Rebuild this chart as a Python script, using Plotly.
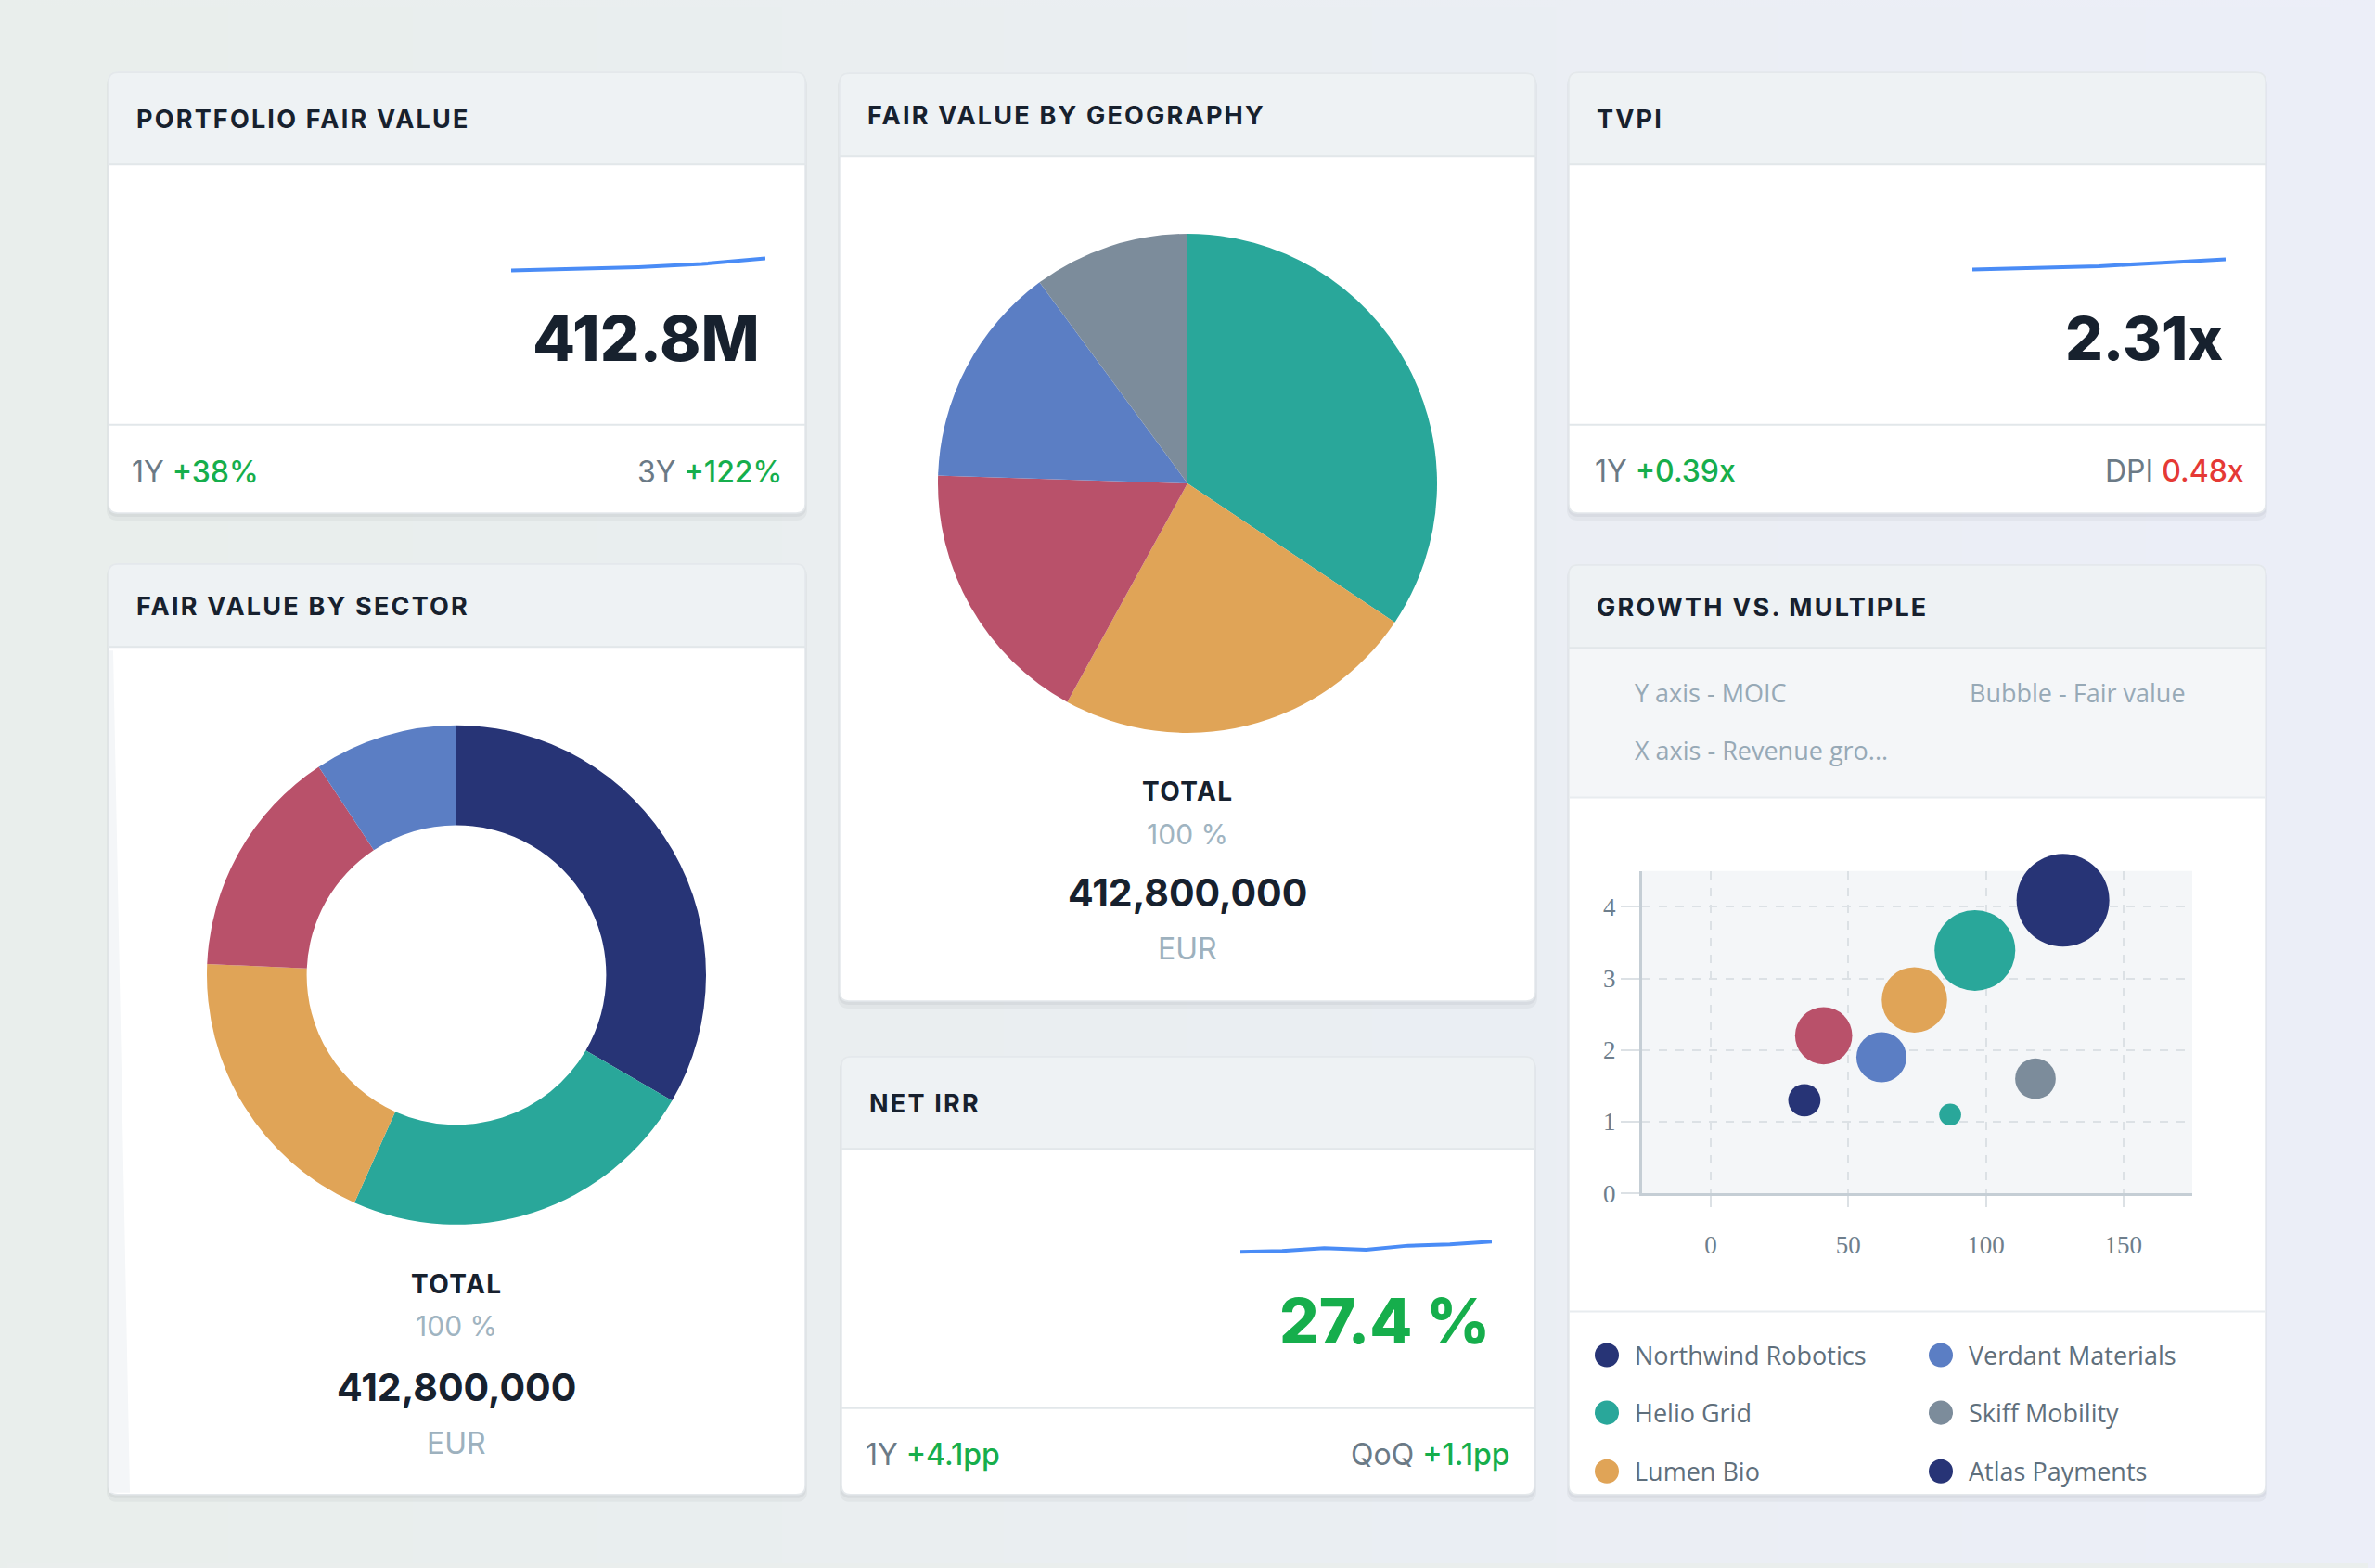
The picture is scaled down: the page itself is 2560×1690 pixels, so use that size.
import numpy as np
import plotly.graph_objects as go

# The page keeps the browser's default 8px body margin, and the photo comes out
# about 1% shorter than the page, so page y = target y * K.
OFF = 8
K = 1708 / 1690
W = 2560 - 2 * OFF
H = round(1690 * K) - 2 * OFF

# ---- data ----
fair_value_hist = [299.1, 312.0, 331.0, 360.0, 412.8]      # EUR m, trailing year
tvpi_hist = [1.92, 1.97, 2.05, 2.18, 2.31]
irr_hist = [23.3, 23.7, 24.8, 24.2, 25.8, 26.3, 27.4]       # %

geo_labels = ["North America", "Western Europe", "Nordics", "Asia-Pacific", "Other"]
geo_share = [34.4, 23.6, 17.5, 14.4, 10.1]
geo_colors = ["#29A79A", "#E0A457", "#B9516A", "#5B7EC4", "#7C8C9B"]

sector_labels = ["Industrial Tech", "Energy", "Healthcare", "Consumer", "Fintech"]
sector_share = [33.4, 23.3, 19.0, 15.0, 9.3]
sector_colors = ["#273476", "#29A79A", "#E0A457", "#B9516A", "#5B7EC4"]

companies = ["Northwind Robotics", "Helio Grid", "Lumen Bio", "Portfolio co. D",
             "Verdant Materials", "Skiff Mobility", "Atlas Payments", "Portfolio co. H"]
revenue_growth = [128.0, 96.0, 74.0, 41.0, 62.0, 118.0, 34.0, 87.0]   # %
moic = [4.09, 3.39, 2.70, 2.20, 1.90, 1.60, 1.30, 1.10]
company_fv = [125.3, 94.9, 62.3, 47.6, 36.5, 24.0, 15.2, 7.0]         # EUR m
company_colors = ["#273476", "#29A79A", "#E0A457", "#B9516A",
                  "#5B7EC4", "#7C8C9B", "#273476", "#29A79A"]
x_ticks = [0, 50, 100, 150]
y_ticks = [0, 1, 2, 3, 4]


# target pixel -> paper fraction
def fx(x):
    return (x - OFF) / W


def fy(y):
    return 1 - (y * K - OFF) / H


def rrect(x0, y0, x1, y1, r, top_only=False):
    rx, ry = r / W, r / H
    X0, X1, Y0, Y1 = fx(x0), fx(x1), fy(y0), fy(y1)
    p = f"M{X0 + rx},{Y0} L{X1 - rx},{Y0} Q{X1},{Y0} {X1},{Y0 - ry} "
    if top_only:
        p += f"L{X1},{Y1} L{X0},{Y1} "
    else:
        p += (f"L{X1},{Y1 + ry} Q{X1},{Y1} {X1 - rx},{Y1} "
              f"L{X0 + rx},{Y1} Q{X0},{Y1} {X0},{Y1 + ry} ")
    p += f"L{X0},{Y0 - ry} Q{X0},{Y0} {X0 + rx},{Y0} Z"
    return p


shapes = []
annos = []


def add_path(path, fill, line=None, lw=0):
    shapes.append(dict(type="path", path=path, xref="paper", yref="paper", layer="below",
                       fillcolor=fill, line=dict(color=line or fill, width=lw)))


def add_hline(x0, x1, y, color="#E2E7EA", w=2):
    shapes.append(dict(type="line", xref="paper", yref="paper", layer="below",
                       x0=fx(x0), x1=fx(x1), y0=fy(y), y1=fy(y), line=dict(color=color, width=w)))


def text(x, y, s, size, color, family="Inter", weight=400, anchor="left"):
    annos.append(dict(x=fx(x), y=fy(y), xref="paper", yref="paper", text=s, showarrow=False,
                      xanchor=anchor, yanchor="middle",
                      font=dict(family=family, size=size, color=color, weight=weight)))


# background gradient
n = 64
c0, c1 = np.array([233, 238, 236]), np.array([236, 238, 248])
for i in range(n):
    c = (c0 + (c1 - c0) * i / (n - 1)).astype(int)
    shapes.append(dict(type="rect", xref="paper", yref="paper", layer="below",
                       x0=i / n, x1=(i + 1) / n + 0.001, y0=0, y1=1,
                       fillcolor=f"rgb({c[0]},{c[1]},{c[2]})", line=dict(width=0)))


def card(x0, y0, x1, y1, head_y, title, footer_y=None):
    add_path(rrect(x0 - 2, y0 + 2, x1 + 2, y1 + 8, 12), "rgba(60,70,80,0.05)")
    add_path(rrect(x0 - 1, y0 + 1, x1 + 1, y1 + 4, 11), "rgba(60,70,80,0.06)")
    add_path(rrect(x0, y0, x1, y1, 10), "#FFFFFF", "#E4E8EB", 1.5)
    add_path(rrect(x0, y0, x1, head_y, 10, top_only=True), "#EEF2F4", "#E4E8EB", 1.5)
    add_hline(x0, x1, head_y)
    if footer_y:
        add_hline(x0, x1, footer_y)
    text(x0 + 28, (y0 + head_y) / 2 + 1, f"<span style='letter-spacing:2.2px'>{title}</span>",
         27, "#17212E", weight=700)


card(117, 78, 868, 552, 177, "PORTFOLIO FAIR VALUE", 457)
card(905, 79, 1655, 1077, 168, "FAIR VALUE BY GEOGRAPHY")
card(1691, 78, 2442, 552, 177, "TVPI", 457)
card(117, 607, 868, 1608, 696, "FAIR VALUE BY SECTOR")
card(907, 1137, 1654, 1608, 1236, "NET IRR", 1515)
card(1691, 608, 2442, 1608, 697, "GROWTH VS. MULTIPLE")

# sector card left fade strip
shapes.append(dict(type="path", xref="paper", yref="paper", layer="below",
                   path=f"M{fx(118)},{fy(700)} L{fx(122)},{fy(700)} L{fx(140)},{fy(1606)} L{fx(118)},{fy(1606)} Z",
                   fillcolor="#F4F6F8", line=dict(width=0)))

# growth card sub header band and legend divider
shapes.append(dict(type="rect", xref="paper", yref="paper", layer="below",
                   x0=fx(1692), x1=fx(2441), y0=fy(858), y1=fy(698),
                   fillcolor="#F4F6F8", line=dict(width=0)))
add_hline(1692, 2441, 858, "#E8ECEF")
add_hline(1692, 2441, 1411, "#E8ECEF")
text(1760, 745, "Y axis - MOIC", 27, "#97A9B6", family="Open Sans")
text(2121, 745, "Bubble - Fair value", 27, "#97A9B6", family="Open Sans")
text(1760, 807, "X axis - Revenue gro...", 27, "#97A9B6", family="Open Sans")

# KPI values and footers
GREEN, GREY = "#16AE4C", "#6B7A86"
text(821, 364, "412.8M", 67, "#17212E", weight=800, anchor="right")
text(2398, 364, "2.31x", 64, "#17212E", weight=800, anchor="right")
text(1608, 1421, "27.4 %", 67, GREEN, weight=800, anchor="right")


def footer(xl, xr, y, l1, v1, l2, v2, c2=GREEN):
    text(xl, y, f"{l1} <span style='color:{GREEN}; font-weight:500'>{v1}</span>", 32, GREY)
    text(xr, y, f"{l2} <span style='color:{c2}; font-weight:500'>{v2}</span>", 32, GREY, anchor="right")


footer(140, 845, 508, "1Y", "+38%", "3Y", "+122%")
footer(1717, 2421, 507, "1Y", "+0.39x", "DPI", "0.48x", "#E53935")
footer(931, 1630, 1565, "1Y", "+4.1pp", "QoQ", "+1.1pp")

# totals under pies
for cx, ys in [(1280, (851, 897, 960, 1021)), (492, (1382, 1427, 1492, 1553))]:
    text(cx, ys[0], "<span style='letter-spacing:1.4px'>TOTAL</span>", 28, "#17212E", weight=700, anchor="center")
    text(cx, ys[1], "100 %", 30, "#A0B4C1", anchor="center")
    text(cx, ys[2], "412,800,000", 41, "#17212E", weight=700, anchor="center")
    text(cx, ys[3], "EUR", 32, "#9DB1BE", anchor="center")

fig = go.Figure()


def spark(vals, axis_id, x0, x1, y_min_px, y_max_px, pad=8):
    k = (max(vals) - min(vals)) / (y_min_px - y_max_px)
    fig.add_trace(go.Scatter(x=list(range(len(vals))), y=vals, mode="lines",
                             line=dict(color="#4A8CF6", width=4), hoverinfo="skip",
                             xaxis=f"x{axis_id}", yaxis=f"y{axis_id}"))
    ax = dict(visible=False, range=[0, len(vals) - 1], domain=[fx(x0), fx(x1)],
              anchor=f"y{axis_id}", fixedrange=True)
    ay = dict(visible=False, range=[min(vals) - pad * k, max(vals) + pad * k],
              domain=[fy(y_min_px + pad), fy(y_max_px - pad)], anchor=f"x{axis_id}", fixedrange=True)
    return ax, ay


ax1, ay1 = spark(fair_value_hist, "", 551, 825, 291, 278)
ax2, ay2 = spark(tvpi_hist, 2, 2126, 2399, 290, 279)
ax3, ay3 = spark(irr_hist, 3, 1337, 1608, 1347, 1336)

# pies
r = 269
fig.add_trace(go.Pie(labels=geo_labels, values=geo_share, sort=False, direction="clockwise",
                     rotation=0, textinfo="none", showlegend=False,
                     marker=dict(colors=geo_colors, line=dict(width=0)),
                     domain=dict(x=[fx(1280 - r), fx(1280 + r)], y=[fy(520 + r), fy(520 - r)])))
fig.add_trace(go.Pie(labels=sector_labels, values=sector_share, sort=False, direction="clockwise",
                     rotation=0, textinfo="none", showlegend=False, hole=0.6,
                     marker=dict(colors=sector_colors, line=dict(width=0)),
                     domain=dict(x=[fx(492 - r), fx(492 + r)], y=[fy(1049 + r), fy(1049 - r)])))

# bubble chart
max_d = 100
fig.add_trace(go.Scatter(x=revenue_growth, y=moic, mode="markers", text=companies,
                         xaxis="x4", yaxis="y4", cliponaxis=False,
                         marker=dict(size=company_fv, sizemode="area",
                                     sizeref=2.0 * max(company_fv) / max_d ** 2,
                                     color=company_colors, opacity=1, line=dict(width=0))))
shapes.append(dict(type="rect", xref="x4 domain", yref="y4 domain", layer="below",
                   x0=0, x1=1, y0=0, y1=1, fillcolor="#F4F6F8", line=dict(width=0)))

tick_font = dict(family="Liberation Serif", size=27, color="#6E7E8C")
grid = "#DCE1E5"
ax4 = dict(domain=[fx(1770), fx(2363)], range=[-25, 175], anchor="y4", tickvals=x_ticks,
           showgrid=True, gridcolor=grid, gridwidth=2, griddash="dash", zeroline=False,
           showline=True, linecolor="#C5CED5", linewidth=3, ticks="outside", ticklen=12,
           tickwidth=2, tickcolor=grid, tickfont=tick_font, ticklabelstandoff=17, fixedrange=True)
ay4 = dict(domain=[fy(1284), fy(937)], range=[0, 4.5], anchor="x4", tickvals=y_ticks,
           showgrid=True, gridcolor=grid, gridwidth=2, griddash="dash", zeroline=False,
           showline=True, linecolor="#C5CED5", linewidth=3, ticks="outside", ticklen=20,
           tickwidth=2, tickcolor=grid, tickfont=tick_font, ticklabelstandoff=0, fixedrange=True)

# manual legend (column-major, 4 rows per column; 4th row clipped by the card)
leg_x = [1732, 2092]
leg_y = [1458, 1520, 1583]
for i, (name, col) in enumerate(zip(companies, company_colors)):
    c, rw = divmod(i, 4)
    if rw >= len(leg_y):
        continue
    mx, my, mr = leg_x[c], leg_y[rw], 13
    shapes.append(dict(type="circle", xref="paper", yref="paper", layer="above",
                       x0=fx(mx - mr), x1=fx(mx + mr), y0=fy(my + mr), y1=fy(my - mr),
                       fillcolor=col, line=dict(width=0)))
    text(mx + 28, my, name, 27, "#5F6F7C", family="Open Sans")

fig.update_layout(width=W, height=H, margin=dict(l=0, r=0, t=0, b=0),
                  paper_bgcolor="#EAEEED", plot_bgcolor="rgba(0,0,0,0)", showlegend=False,
                  shapes=shapes, annotations=annos,
                  xaxis=ax1, yaxis=ay1, xaxis2=ax2, yaxis2=ay2, xaxis3=ax3, yaxis3=ay3,
                  xaxis4=ax4, yaxis4=ay4)

fig.write_html("out.html", config={"displayModeBar": False},
               post_script="document.documentElement.style.background="
                           "'linear-gradient(90deg,#E9EEEC,#ECEEF8)';"
                           "document.body.style.background='transparent';")
